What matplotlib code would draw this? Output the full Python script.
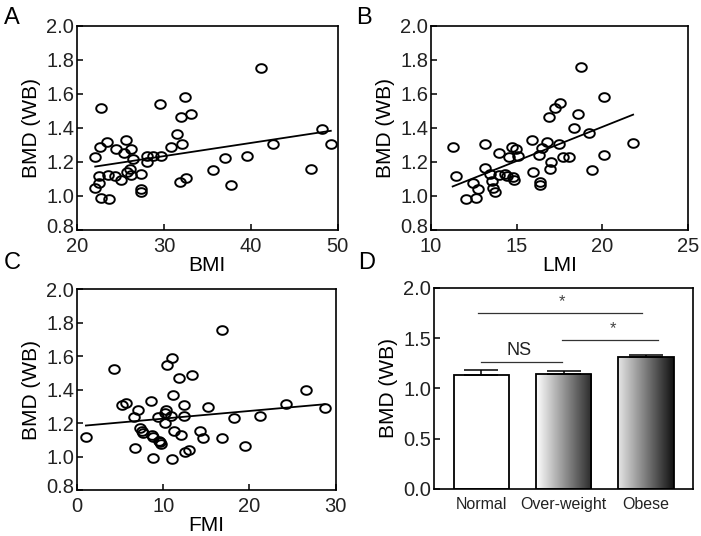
import numpy as np
import matplotlib
matplotlib.use("Agg")
import matplotlib.pyplot as plt
from matplotlib.colors import LinearSegmentedColormap
from matplotlib.path import Path
from matplotlib.transforms import ScaledTranslation

plt.rcParams['font.family'] = ['Liberation Sans', 'DejaVu Sans']

# --- data ---
bmd_a = [1.227, 1.516, 1.29, 1.32, 1.045, 1.075, 1.118, 0.986, 0.982, 1.124,
         1.275, 1.118, 1.094, 1.33, 1.251, 1.143, 1.275, 1.157, 1.124, 1.216,
         1.129, 1.039, 1.022, 1.237, 1.198, 1.237, 1.237, 1.541, 1.29, 1.365,
         1.304, 1.463, 1.58, 1.48, 1.08, 1.108, 1.153, 1.225, 1.065, 1.237,
         1.751, 1.304, 1.161, 1.396, 1.306]
bmi = [22.1, 22.8, 22.6, 23.4, 22.1, 22.5, 22.5, 22.8, 23.7, 23.6,
       24.5, 24.4, 25.1, 25.6, 25.4, 25.7, 26.2, 26.1, 26.2, 26.4,
       27.4, 27.4, 27.4, 28.0, 28.0, 28.7, 29.7, 29.5, 30.8, 31.5,
       32.1, 32.0, 32.4, 33.1, 31.8, 32.5, 35.7, 37.0, 37.7, 39.6,
       41.2, 42.6, 46.9, 48.2, 49.2]

lmi = [11.26, 11.46, 12.02, 12.43, 12.64, 12.72, 13.17, 13.13, 13.44, 13.54,
       13.6, 13.75, 13.94, 13.94, 14.33, 14.41, 14.56, 14.70, 14.8, 14.86,
       14.95, 15.09, 15.9, 15.93, 16.28, 16.36, 16.36, 16.49, 16.78, 16.9,
       16.94, 17.03, 17.23, 17.52, 17.46, 17.73, 18.04, 18.33, 18.59, 18.78,
       19.23, 19.4, 20.08, 20.1, 21.81]
bmd_b = [1.29, 1.118, 0.982, 1.075, 0.986, 1.039, 1.306, 1.163, 1.129, 1.088,
         1.045, 1.024, 1.251, 1.124, 1.129, 1.118, 1.231, 1.29, 1.114, 1.094,
         1.275, 1.237, 1.33, 1.143, 1.241, 1.084, 1.065, 1.28, 1.32, 1.467,
         1.157, 1.202, 1.516, 1.545, 1.306, 1.227, 1.231, 1.398, 1.482, 1.757,
         1.369, 1.153, 1.584, 1.241, 1.31]

fmi = [1.04, 4.32, 5.21, 5.64, 6.64, 6.76, 7.03, 7.3, 7.49, 7.69,
       8.57, 8.76, 8.69, 8.84, 9.42, 9.5, 9.6, 9.73, 10.19, 10.27,
       10.19, 10.39, 10.93, 10.97, 10.97, 11.16, 11.24, 11.85, 12.12, 12.36,
       12.36, 12.55, 13.01, 13.32, 14.25, 14.59, 15.17, 16.8, 16.87, 18.19,
       19.5, 21.27, 24.29, 26.6, 28.73]
bmd_c = [1.119, 1.524, 1.305, 1.322, 1.233, 1.049, 1.278, 1.169, 1.155, 1.143,
         1.332, 0.993, 1.129, 1.119, 1.235, 1.095, 1.085, 1.073, 1.258, 1.278,
         1.199, 1.548, 1.239, 1.587, 0.985, 1.368, 1.153, 1.468, 1.129, 1.308,
         1.24, 1.025, 1.039, 1.484, 1.155, 1.113, 1.296, 1.109, 1.757, 1.229,
         1.065, 1.243, 1.312, 1.398, 1.292]

# regression lines (slope, intercept) as drawn in the figure
fit_a = (0.00776, 1.0015)
fit_b = (0.04006, 0.6047)
fit_c = (0.004587, 1.1802)

groups = ['Normal', 'Over-weight', 'Obese']
group_mean = [1.131, 1.144, 1.31]
group_err = [0.056, 0.026, 0.027]

# significance brackets: (x start, x end, y level, label)
sig = [(0.0, 0.98, 1.264, 'NS'),
       (0.98, 2.15, 1.483, '*'),
       (-0.04, 1.95, 1.745, '*')]

tick_col = '#222222'

# slightly flattened open circle, like the scanned figure
t = np.linspace(0, 2 * np.pi, 60)
oval = Path(np.column_stack([np.cos(t), 0.82 * np.sin(t)]), closed=True)

fig = plt.figure(figsize=(7.01, 5.36), dpi=100)

def style(ax):
    for s in ax.spines.values():
        s.set_linewidth(1.2)
    ax.tick_params(direction='in', length=4, width=1.1, labelsize=14.5,
                   labelcolor=tick_col, top=False, right=False, pad=2)

def scatter_panel(rect, x, y, fit, xlim, xticks, xlabel, letter, lpos):
    ax = fig.add_axes(rect)
    ax.plot(x, y, linestyle='none', marker=oval, mfc='none', mec='black',
            ms=7.6, mew=1.4)
    xx = np.array([min(x), max(x)])
    ax.plot(xx, fit[0] * xx + fit[1], color='black', lw=1.3)
    ax.set_xlim(*xlim)
    ax.set_ylim(0.8, 2.0)
    ax.set_xticks(xticks)
    ax.set_yticks(np.arange(0.8, 2.01, 0.2))
    ax.set_yticklabels(['%.1f' % v for v in np.arange(0.8, 2.01, 0.2)])
    ax.set_xlabel(xlabel, fontsize=15, labelpad=0)
    ax.set_ylabel('BMD (WB)', fontsize=15, labelpad=4)
    style(ax)
    ax.tick_params(axis='x', pad=5)
    # lift the bottom y label a little so it clears the first x label
    lab0 = ax.get_yticklabels()[0]
    lab0.set_transform(lab0.get_transform() +
                       ScaledTranslation(0, 3 / 72, fig.dpi_scale_trans))
    fig.text(lpos[0], lpos[1], letter, fontsize=17)
    return ax

scatter_panel([0.1098, 0.571, 0.372, 0.3805], bmi, bmd_a, fit_a, (20, 50),
              [20, 30, 40, 50], 'BMI', 'A', (0.006, 0.955))
scatter_panel([0.615, 0.571, 0.366, 0.3805], lmi, bmd_b, fit_b, (10, 25),
              [10, 15, 20, 25], 'LMI', 'B', (0.508, 0.955))
scatter_panel([0.1098, 0.0858, 0.369, 0.375], fmi, bmd_c, fit_c, (0, 30),
              [0, 10, 20, 30], 'FMI', 'C', (0.006, 0.498))

# panel D
ax = fig.add_axes([0.619, 0.0877, 0.3696, 0.3753])
xpos = np.arange(len(groups))
width = 0.67
bars = ax.bar(xpos, group_mean, width=width, color='none', edgecolor='black',
              linewidth=1.3, zorder=3)
ax.errorbar(xpos, group_mean, yerr=[np.zeros(3), group_err], fmt='none',
            ecolor='black', elinewidth=1.1, capsize=12, capthick=1.1, zorder=4)

grads = [None,
         LinearSegmentedColormap.from_list('g1', ['#ffffff', '#2a2a2a']),
         LinearSegmentedColormap.from_list('g2', ['#e6e6e6', '#111111'])]
grad = np.linspace(0, 1, 256).reshape(1, -1)
for b, cm in zip(bars, grads):
    if cm is None:
        continue
    x0, y0 = b.get_x(), b.get_y()
    im = ax.imshow(grad, cmap=cm, aspect='auto', zorder=2,
                   extent=[x0, x0 + b.get_width(), y0, y0 + b.get_height()])
    im.set_clip_path(b)

for xs, xe, yl, lab in sig:
    ax.plot([xs, xe], [yl, yl], color='#333333', lw=0.9)
    if lab == 'NS':
        ax.text((xs + xe) / 2 - 0.03, yl + 0.03, lab, ha='center', va='bottom',
                fontsize=13, color=tick_col)
    else:
        ax.text((xs + xe) / 2 + 0.03, yl + 0.04, lab, ha='center', va='bottom',
                fontsize=12, color='#444444')

ax.set_xlim(-0.575, 2.57)
ax.set_ylim(0, 2.0)
ax.set_yticks([0, 0.5, 1.0, 1.5, 2.0])
ax.set_yticklabels(['0.0', '0.5', '1.0', '1.5', '2.0'])
ax.set_xticks(xpos)
ax.set_xticklabels(groups)
ax.set_ylabel('BMD (WB)', fontsize=15, labelpad=4)
style(ax)
ax.tick_params(axis='x', length=0, labelsize=11.5, pad=6)
fig.text(0.511, 0.498, 'D', fontsize=17)

fig.savefig('out.png', dpi=100)
